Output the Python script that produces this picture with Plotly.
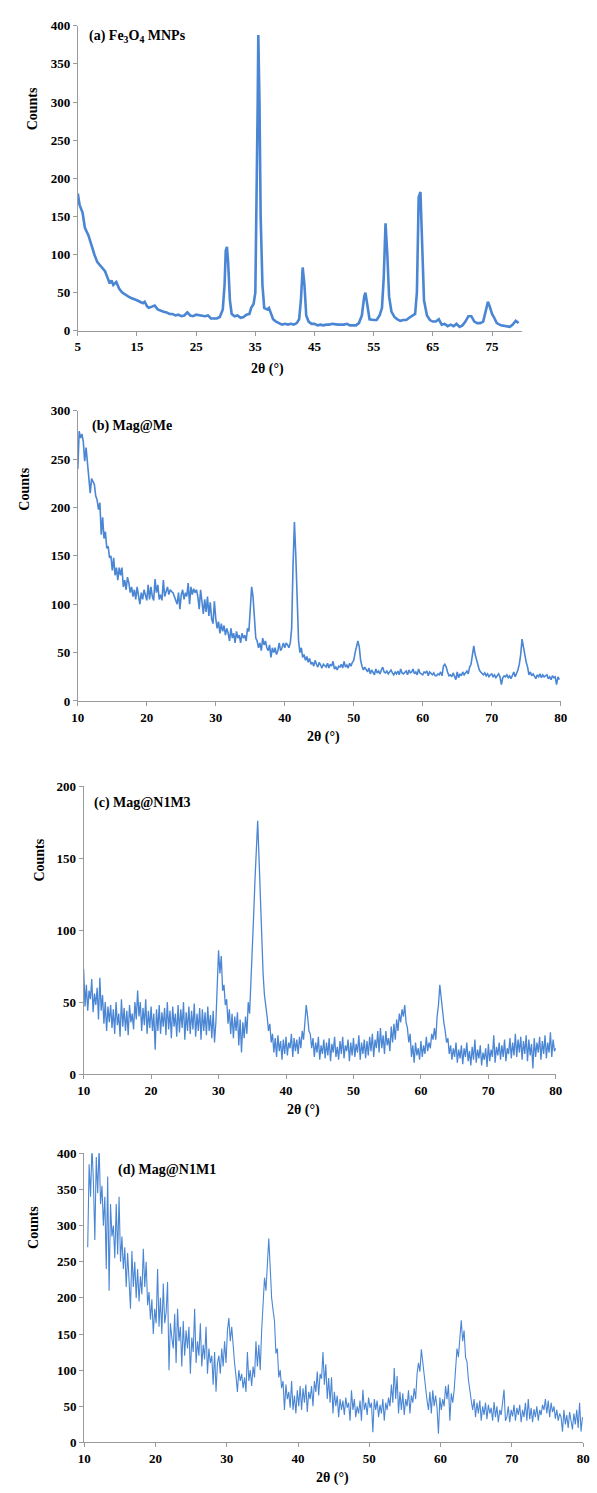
import numpy as np
import plotly.graph_objects as go

W, H = 597, 1493

# ---------------- (a) Fe3O4 MNPs ----------------
a_theta = [5.0, 5.3, 5.8, 6.2, 6.8, 7.2, 7.5, 7.8, 8.3, 8.8, 9.3, 9.6, 10.0, 10.4, 10.7, 11.0, 11.5,
           12.0, 12.5, 13.0, 13.5, 14.0, 14.5, 15.0, 15.5, 16.0, 16.3, 16.7, 17.0, 17.5, 18.0, 18.5,
           19.0, 19.5, 20.0, 20.5, 21.0, 21.5, 22.0, 22.5, 23.0, 23.5, 24.0, 24.5, 25.0, 25.5, 26.0,
           26.5, 27.0, 27.5, 28.0, 28.5, 29.0, 29.5, 29.8, 30.0, 30.2, 30.4, 30.7, 31.0, 31.5, 32.0,
           32.5, 33.0, 33.5, 34.0, 34.3, 34.7, 35.0, 35.2, 35.4, 35.5, 35.7, 35.9, 36.2, 36.5, 37.0,
           37.3, 37.7, 38.0, 38.5, 39.0, 39.5, 40.0, 40.5, 41.0, 41.5, 42.0, 42.4, 42.7, 43.0, 43.3,
           43.6, 44.0, 44.5, 45.0, 45.5, 46.0, 46.5, 47.0, 47.5, 48.0, 49.0, 50.0, 50.5, 51.0, 52.0,
           52.5, 53.0, 53.4, 53.6, 53.9, 54.3, 55.0, 55.5, 56.0, 56.4, 56.7, 57.0, 57.3, 57.6, 58.0,
           58.5, 59.0, 59.5, 60.0, 60.5, 61.0, 61.5, 62.0, 62.3, 62.6, 62.9, 63.2, 63.5, 64.0, 64.5,
           65.0, 65.5, 66.0, 66.5, 67.0, 67.5, 68.0, 68.5, 69.0, 69.5, 70.0, 70.5, 71.0, 71.5, 72.0,
           72.5, 73.0, 73.5, 74.0, 74.3, 74.6, 75.0, 75.3, 75.8, 76.5, 77.0, 77.5, 78.0, 78.5, 79.0, 79.5]
a_counts = [180, 165, 155, 135, 125, 115, 105, 100, 90, 85, 80, 78, 70, 62, 66, 60, 64,
            55, 50, 47, 45, 43, 42, 40, 38, 36, 38, 32, 30, 31, 33, 28,
            26, 25, 24, 22, 22, 20, 21, 19, 20, 24, 20, 19, 21, 20, 19,
            19, 20, 16, 16, 16, 18, 28, 60, 105, 110, 90, 40, 22, 19, 20,
            17, 18, 21, 22, 30, 35, 50, 150, 300, 388, 300, 150, 60, 30, 28,
            30, 22, 15, 12, 10, 8, 9, 8, 9, 8, 10, 15, 40, 83, 60,
            20, 12, 9, 9, 7, 8, 7, 8, 8, 9, 8, 8, 9, 7, 7,
            10, 20, 45, 50, 35, 15, 14, 14, 20, 30, 70, 141, 100, 45, 25,
            18, 15, 13, 14, 14, 17, 20, 22, 50, 175, 182, 100, 40, 20, 14,
            12, 12, 15, 8, 9, 6, 8, 6, 9, 5, 7, 12, 19, 19, 12,
            10, 10, 12, 28, 38, 32, 22, 18, 10, 7, 6, 5, 5, 8, 13, 10]

# ---------------- (b) Mag@Me  (2θ = 10.0 + 0.2 i) ----------------
b_start, b_step = 10.0, 0.2
b_counts = [
    240, 279, 272, 276, 268, 248, 262, 246, 238, 215,
    230, 226, 224, 212, 208, 198, 205, 172, 190, 168,
    175, 158, 160, 148, 150, 135, 148, 130, 138, 125,
    138, 130, 138, 118, 125, 115, 128, 122, 112, 118,
    108, 115, 105, 118, 108, 100, 112, 105, 115, 108,
    104, 120, 105, 118, 108, 104, 126, 112, 120, 105,
    110, 104, 125, 108, 112, 118, 110, 115, 113, 112,
    108, 104, 100, 112, 95, 110, 115, 105, 112, 108,
    122, 100, 118, 110, 116, 112, 115, 108, 95, 115,
    100, 90, 105, 92, 108, 88, 102, 85, 80, 103,
    85, 75, 82, 70, 80, 72, 78, 68, 75, 70,
    62, 75, 65, 70, 60, 72, 65, 68, 60, 70,
    65, 68, 62, 75, 72, 95, 118, 108, 80, 65,
    62, 55, 60, 52, 65, 58, 62, 55, 52, 58,
    45, 55, 50, 55, 48, 52, 60, 52, 55, 60,
    55, 60, 58, 55, 60, 75, 140, 185, 150, 95,
    62, 50, 55, 45, 48, 42, 46, 40, 44, 38,
    40, 36, 42, 38, 35, 40, 37, 34, 38, 36,
    35, 39, 34, 38, 36, 41, 33, 35, 32, 36,
    35, 38, 34, 41, 35, 37, 34, 39, 36, 40,
    42, 50, 58, 62, 56, 42, 36, 32, 35, 33,
    30, 34, 28, 32, 30, 27, 33, 29, 31, 28,
    32, 35, 30, 29, 31, 28, 30, 32, 29, 27,
    30, 28, 31, 27, 33, 29, 28, 30, 31, 27,
    32, 29, 30, 33, 28, 30, 27, 33, 29, 28,
    27, 30, 29, 31, 26, 30, 28, 27, 29, 26,
    26, 28, 27, 30, 26, 36, 38, 35, 30, 26,
    27, 25, 29, 26, 22, 30, 24, 28, 26, 30,
    27, 29, 31, 28, 35, 38, 48, 57, 48, 42,
    38, 32, 30, 28, 27, 29, 26, 28, 25, 27,
    28, 25, 27, 24, 26, 28, 25, 17, 24, 26,
    25, 27, 24, 26, 23, 27, 30, 25, 28, 32,
    38, 48, 64, 55, 45, 40, 35, 27, 30, 26,
    28, 25, 23, 27, 25, 28, 24, 27, 25, 26,
    27, 23, 25, 22, 26, 24, 25, 17, 25, 22,
]

# ---------------- (c) Mag@N1M3  (2θ = 10.0 + 0.2 i) ----------------
c_start, c_step = 10.0, 0.2
c_counts = [
    73, 47, 62, 44, 58, 52, 66, 43, 56, 48,
    60, 38, 67, 44, 55, 35, 50, 30, 47, 36,
    48, 32, 45, 28, 50, 34, 42, 26, 52, 33,
    46, 30, 44, 27, 48, 36, 42, 31, 50, 38,
    58, 40, 50, 30, 46, 34, 52, 28, 44, 32,
    47, 30, 42, 17, 45, 30, 48, 28, 43, 33,
    46, 27, 50, 31, 44, 25, 47, 33, 42, 26,
    48, 29, 45, 32, 50, 24, 43, 30, 47, 28,
    44, 31, 49, 26, 42, 30, 46, 24, 45, 30,
    43, 27, 47, 30, 41, 25, 44, 22, 36, 62,
    86, 70, 82, 58, 62, 48, 52, 35, 45, 28,
    42, 25, 40, 30, 43, 20, 38, 15, 36, 25,
    40, 28, 50, 42, 62, 85, 110, 135, 160, 176,
    150, 118, 92, 70, 55, 48, 40, 30, 35, 22,
    28, 15, 25, 12, 27, 16, 23, 10, 24, 14,
    26, 13, 22, 18, 28, 12, 25, 16, 24, 14,
    26, 18, 30, 24, 38, 48, 40, 30, 28, 18,
    25, 12, 22, 15, 26, 10, 20, 14, 24, 11,
    22, 13, 25, 9, 21, 15, 26, 12, 19, 10,
    23, 14, 26, 11, 20, 16, 24, 9, 22, 13,
    25, 12, 21, 15, 27, 10, 22, 14, 24, 11,
    23, 13, 26, 16, 28, 12, 24, 18, 30, 15,
    32, 18, 27, 14, 30, 20, 25, 16, 33, 22,
    35, 24, 38, 30, 42, 36, 45, 40, 48, 36,
    32, 22, 28, 12, 20, 8, 22, 13, 18, 10,
    23, 12, 20, 14, 26, 16, 22, 18, 28, 24,
    32, 24, 40, 48, 62, 52, 44, 36, 30, 22,
    25, 14, 20, 10, 18, 12, 22, 8, 17, 11,
    20, 7, 18, 12, 22, 9, 16, 6, 19, 10,
    24, 8, 17, 11, 20, 6, 15, 10, 18, 5,
    21, 9, 17, 12, 27, 8, 19, 13, 22, 10,
    20, 12, 24, 9, 18, 14, 25, 11, 22, 13,
    28, 12, 24, 15, 26, 10, 23, 14, 27, 9,
    24, 13, 21, 4, 25, 12, 22, 15, 26, 10,
    23, 14, 27, 11, 22, 15, 29, 12, 24, 16,
    18,
]

# ---------------- (d) Mag@N1M1  (2θ = 10.5 + 0.2 i) ----------------
d_start, d_step = 10.5, 0.2
d_counts = [
    270, 385, 340, 410, 360, 280, 395, 345, 410, 330,
    355, 300, 340, 240, 368, 210, 330, 285, 300, 255,
    330, 260, 340, 250, 285, 240, 270, 215, 262, 230,
    185, 265, 215, 250, 200, 240, 195, 230, 205, 268,
    215, 250, 190, 208, 170, 198, 150, 185, 165, 240,
    160, 200, 150, 220, 165, 180, 222, 100, 165, 145,
    130, 178, 110, 185, 140, 160, 105, 168, 120, 155,
    130, 160, 95, 145, 125, 185, 110, 140, 120, 165,
    105, 135, 115, 160, 95, 130, 110, 120, 80, 125,
    70, 110, 120, 95, 130, 105, 140, 110, 155, 172,
    140, 160, 128, 110, 92, 70, 100, 85, 95, 75,
    90, 70, 125, 85, 100, 78, 105, 90, 140, 105,
    135, 100, 155, 185, 228, 210, 255, 282, 242, 200,
    183, 168, 123, 130, 90, 100, 75, 85, 45, 80,
    60, 70, 48, 85, 45, 65, 40, 72, 50, 78,
    45, 75, 55, 80, 42, 70, 60, 78, 50, 85,
    70, 98, 65, 95, 88, 125, 80, 108, 60, 89,
    55, 90, 40, 70, 50, 65, 35, 60, 45, 58,
    38, 62, 48, 55, 30, 72, 45, 60, 35, 50,
    40, 58, 30, 73, 45, 55, 38, 62, 48, 55,
    14, 60, 45, 58, 35, 52, 40, 60, 30, 55,
    45, 62, 50, 80, 55, 103, 60, 92, 40, 70,
    45, 68, 38, 60, 50, 72, 40, 65, 55, 75,
    60, 95, 110, 98, 129, 110, 95, 78, 58, 45,
    70, 40, 72, 50, 65, 48, 12, 62, 45, 60,
    50, 78, 60, 80, 30, 68, 55, 72, 98, 130,
    118, 150, 169, 140, 155, 118, 112, 87, 68, 58,
    45, 60, 35, 55, 40, 58, 30, 50, 38, 55,
    32, 52, 40, 48, 30, 56, 35, 50, 28, 45,
    38, 55, 73, 30, 35, 50, 28, 45, 36, 52,
    30, 48, 38, 52, 28, 45, 35, 55, 30, 60,
    32, 48, 28, 46, 35, 50, 30, 45, 38, 52,
    45, 60, 40, 58, 35, 55, 42, 50, 33, 45,
    30, 40, 35, 15, 45, 25, 38, 20, 42, 30,
    18, 40, 25, 45, 20, 55, 15, 35,
]

b_theta = np.round(b_start + b_step * np.arange(len(b_counts)), 2)
c_theta = np.round(c_start + c_step * np.arange(len(c_counts)), 2)
d_theta = np.round(d_start + d_step * np.arange(len(d_counts)), 2)

# ---------------- panel settings ----------------
panel_labels = ["(a) Fe<sub>3</sub>O<sub>4</sub> MNPs", "(b) Mag@Me", "(c) Mag@N1M3", "(d) Mag@N1M1"]
x_ranges = [[5, 80], [10, 80], [10, 80], [10, 80]]
x_ticks = [[5, 15, 25, 35, 45, 55, 65, 75],
           [10, 20, 30, 40, 50, 60, 70, 80],
           [10, 20, 30, 40, 50, 60, 70, 80],
           [10, 20, 30, 40, 50, 60, 70, 80]]
y_ranges = [[0, 400], [0, 300], [0, 200], [0, 400]]
y_dtick = 50

# pixel boxes: (left, right, top, bottom)
boxes = [(72.5, 527, 19, 327), (72.5, 567, 408, 701), (78.5, 562, 787, 1078), (79, 590, 1158, 1450)]
label_pos = [(82, 30), (85, 423), (87, 804), (112, 1175)]
ytitle_pos = [(27, 103), (18, 487), (33, 862), (27, 1233)]
xtitle_pos = [(267, 366), (324, 737), (304, 1114), (333, 1486)]
line_widths = [2.6, 1.6, 1.3, 1.1]

COLOR = "#4A86D4"
AXIS = "#9A9A9A"
FONT = "Liberation Serif"


def px(x):
    return x / W


def py(y):
    return 1 - y / H


fig = go.Figure()
series = [(a_theta, a_counts), (b_theta, b_counts), (c_theta, c_counts), (d_theta, d_counts)]
annotations = []
for i, (xs, ys) in enumerate(series):
    n = "" if i == 0 else str(i + 1)
    fig.add_trace(go.Scatter(x=list(xs), y=list(ys), mode="lines",
                             line=dict(color=COLOR, width=line_widths[i]),
                             xaxis="x" + n, yaxis="y" + n, showlegend=False,
                             hoverinfo="skip"))
    l, r, t, b = boxes[i]
    fig.layout["xaxis" + n] = dict(
        domain=[px(l), px(r)], anchor="y" + n, range=x_ranges[i],
        tickmode="array", tickvals=x_ticks[i], ticks="outside", ticklen=4,
        tickcolor=AXIS, showline=True, linecolor=AXIS, linewidth=1,
        showgrid=False, zeroline=False,
        tickfont=dict(family=FONT, size=13, color="black", weight="bold"))
    fig.layout["yaxis" + n] = dict(
        domain=[py(b), py(t)], anchor="x" + n, range=y_ranges[i],
        dtick=y_dtick, tick0=0, ticks="outside", ticklen=4,
        tickcolor=AXIS, showline=True, linecolor=AXIS, linewidth=1,
        showgrid=False, zeroline=False,
        tickfont=dict(family=FONT, size=13, color="black", weight="bold"))
    lx, ly = label_pos[i]
    annotations.append(dict(text="<b>" + panel_labels[i] + "</b>", x=px(lx), y=py(ly),
                            xref="paper", yref="paper", xanchor="left", yanchor="middle",
                            showarrow=False, font=dict(family=FONT, size=14, color="black")))
    tx, ty = ytitle_pos[i]
    annotations.append(dict(text="<b>Counts</b>", x=px(tx), y=py(ty), xref="paper", yref="paper",
                            xanchor="center", yanchor="middle", textangle=-90, showarrow=False,
                            font=dict(family=FONT, size=14, color="black")))
    xx, xy = xtitle_pos[i]
    annotations.append(dict(text="<b>2θ (°)</b>", x=px(xx), y=py(xy), xref="paper", yref="paper",
                            xanchor="center", yanchor="middle", showarrow=False,
                            font=dict(family=FONT, size=14, color="black")))

fig.update_layout(width=W, height=H, margin=dict(l=0, r=0, t=0, b=0),
                  paper_bgcolor="white", plot_bgcolor="white",
                  annotations=annotations, showlegend=False)

fig.write_html("out.html")
